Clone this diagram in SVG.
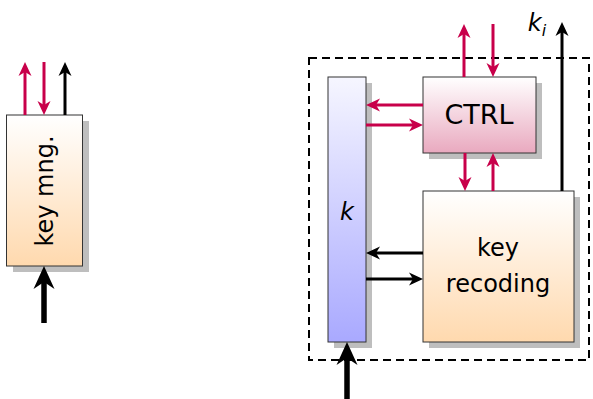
<svg xmlns="http://www.w3.org/2000/svg" xmlns:xlink="http://www.w3.org/1999/xlink" width="593" height="399" viewBox="0 0 593 399">
<defs>
<linearGradient id="gOrange" x1="0" y1="0" x2="0" y2="1"><stop offset="0" stop-color="#FFFFFF"/><stop offset="1" stop-color="#FFD9AE"/></linearGradient>
<linearGradient id="gBlue" x1="0" y1="0" x2="0" y2="1"><stop offset="0" stop-color="#F6F6FF"/><stop offset="1" stop-color="#A9A9FF"/></linearGradient>
<linearGradient id="gPink" x1="0" y1="0" x2="0" y2="1"><stop offset="0" stop-color="#FFFFFF"/><stop offset="1" stop-color="#E9A9BF"/></linearGradient>
<path id="ah" d="M0,0 L-14,-6.5 L-10,0 L-14,6.5 Z"/>
<path id="ahT" d="M0,0 L-23,-10.5 L-16,0 L-23,10.5 Z"/>
</defs>
<style>
.sh{fill:#BEBEBE}
.box{stroke:#333;stroke-width:1}
.red{stroke:#C8004A;stroke-width:3;fill:none}
.blk{stroke:#000;stroke-width:3;fill:none}
.thk{stroke:#000;stroke-width:5.5;fill:none}
.hr{fill:#C8004A}
.hk{fill:#000}
.t{font-family:"DejaVu Sans","Liberation Sans",sans-serif;font-size:24px;fill:#000;text-anchor:middle}
</style>
<g id="keymng">
<rect class="sh" x="13" y="121" width="76" height="151"/>
<rect class="box" x="6.5" y="115" width="76" height="151" fill="url(#gOrange)"/>
<text class="t" transform="translate(53,191) rotate(-90)">key mng.</text>
</g>
<g id="frame">
<rect x="309" y="58" width="280" height="302" fill="none" stroke="#000" stroke-width="2" stroke-dasharray="8,5"/>
</g>
<g id="kbar">
<rect class="sh" x="334" y="83" width="38" height="265"/>
<rect class="box" x="328" y="77" width="38" height="265" fill="url(#gBlue)"/>
<text class="t" x="347" y="220" font-style="italic">k</text>
</g>
<g id="ctrl">
<rect class="sh" x="429" y="83" width="113" height="76"/>
<rect class="box" x="423" y="77" width="113" height="76" fill="url(#gPink)"/>
<text class="t" x="479" y="124" style="font-size:27px">CTRL</text>
</g>
<g id="recoding">
<rect class="sh" x="429" y="197" width="151" height="151"/>
<rect class="box" x="423" y="191" width="151" height="151" fill="url(#gOrange)"/>
<text class="t" x="498" y="256">key</text>
<text class="t" x="498" y="292">recoding</text>
</g>
<g id="connectors">
<line class="red" x1="25" y1="115" x2="25" y2="72"/><use xlink:href="#ah" class="hr" transform="translate(25,62) rotate(-90)"/>
<line class="red" x1="44" y1="62" x2="44" y2="105"/><use xlink:href="#ah" class="hr" transform="translate(44,115) rotate(90)"/>
<line class="blk" x1="65" y1="115" x2="65" y2="72"/><use xlink:href="#ah" class="hk" transform="translate(65,62) rotate(-90)"/>
<line class="thk" x1="44" y1="323" x2="44" y2="282"/><use xlink:href="#ahT" class="hk" transform="translate(44,266) rotate(-90)"/>
<line class="red" x1="464" y1="77" x2="464" y2="34"/><use xlink:href="#ah" class="hr" transform="translate(464,24) rotate(-90)"/>
<line class="red" x1="493" y1="24" x2="493" y2="67"/><use xlink:href="#ah" class="hr" transform="translate(493,77) rotate(90)"/>
<line class="red" x1="423" y1="105" x2="376" y2="105"/><use xlink:href="#ah" class="hr" transform="translate(366,105) rotate(180)"/>
<line class="red" x1="366" y1="125" x2="413" y2="125"/><use xlink:href="#ah" class="hr" transform="translate(423,125)"/>
<line class="red" x1="465" y1="153" x2="465" y2="181"/><use xlink:href="#ah" class="hr" transform="translate(465,191) rotate(90)"/>
<line class="red" x1="493" y1="191" x2="493" y2="163"/><use xlink:href="#ah" class="hr" transform="translate(493,153) rotate(-90)"/>
<line class="blk" x1="423" y1="253" x2="376" y2="253"/><use xlink:href="#ah" class="hk" transform="translate(366,253) rotate(180)"/>
<line class="blk" x1="366" y1="279" x2="413" y2="279"/><use xlink:href="#ah" class="hk" transform="translate(423,279)"/>
<line class="blk" x1="562" y1="191" x2="562" y2="32"/><use xlink:href="#ah" class="hk" transform="translate(562,22) rotate(-90)"/>
<line class="thk" x1="347" y1="399" x2="347" y2="358"/><use xlink:href="#ahT" class="hk" transform="translate(347,342) rotate(-90)"/>
</g>
<g id="ki">
<text x="537" y="31" font-family="DejaVu Sans,sans-serif" font-size="24" font-style="italic" text-anchor="middle">k<tspan font-size="16" dy="5">i</tspan></text>
</g>
</svg>
